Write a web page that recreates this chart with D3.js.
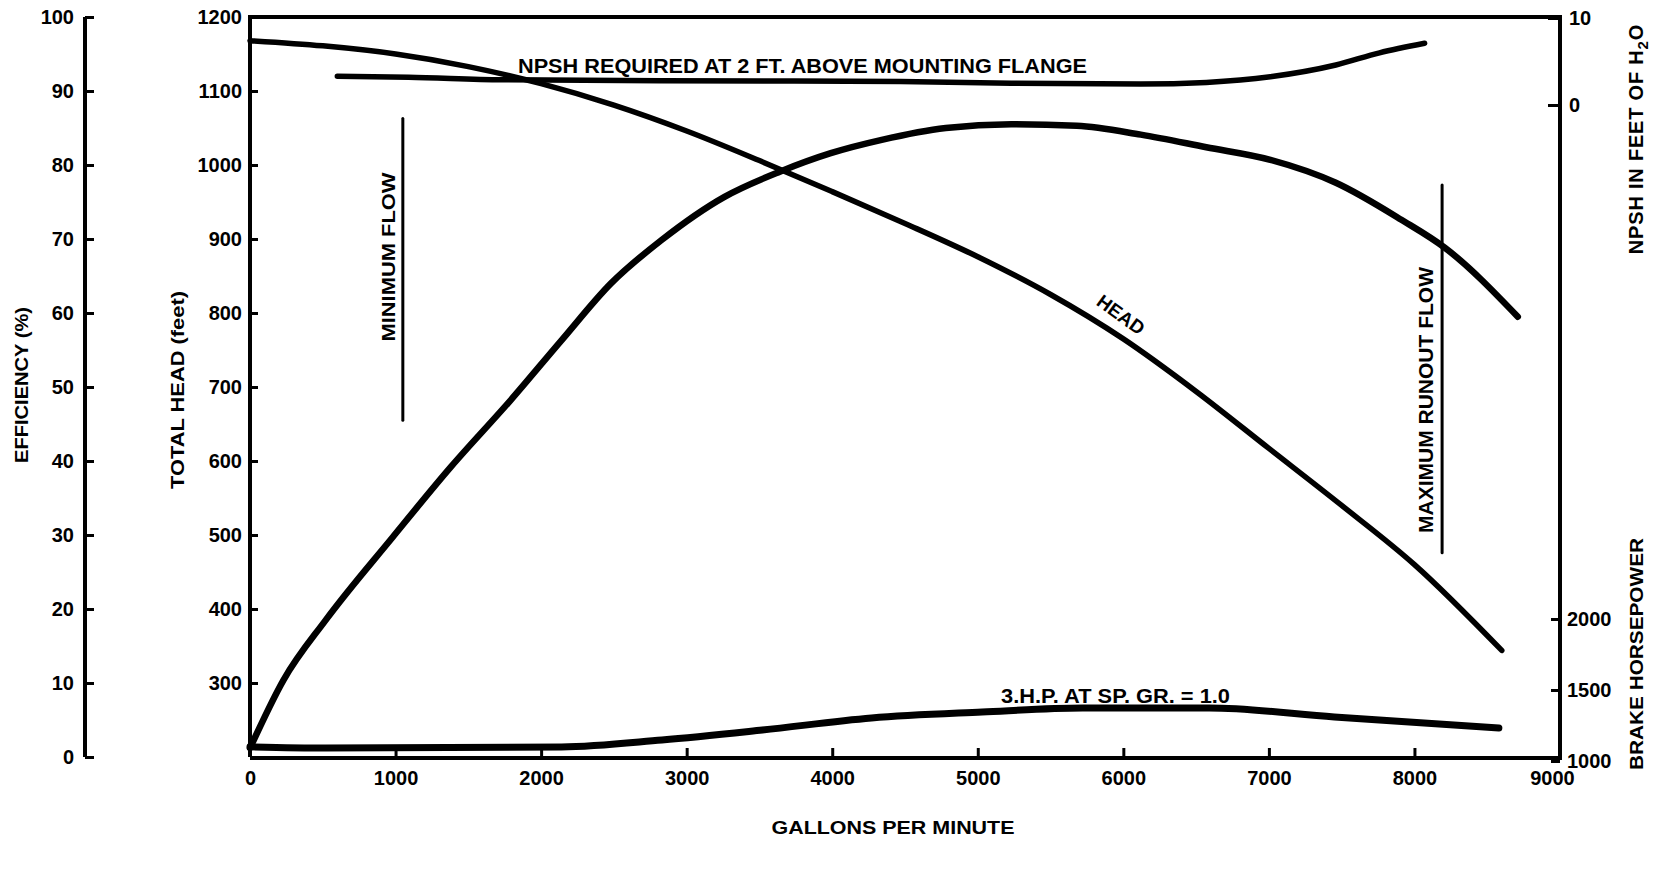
<!DOCTYPE html>
<html>
<head>
<meta charset="utf-8">
<script src="https://cdn.jsdelivr.net/npm/d3@7"></script>
<style>
  html, body { margin: 0; padding: 0; background: #fff; }
  svg { display: block; }
  text { font-family: "Liberation Sans", Arial, sans-serif; font-weight: bold; fill: #000; }
</style>
</head>
<body>
<svg id="chart" width="1658" height="869"></svg>
<script>
// Pump performance curves: flow (gpm) against head, efficiency, NPSH and brake horsepower.

// Head curve (feet)
const headGpm = [0, 500, 1000, 1500, 2000, 2500, 3000, 3500, 4000, 4500, 5000, 5500, 6000, 6500, 7000, 7500, 8000, 8600];
const headFt  = [1168, 1161, 1150, 1133, 1110, 1081, 1046, 1006, 964, 921, 876, 825, 765, 694, 617, 540, 460, 344];

// Efficiency curve (%)
const effGpm = [0, 230, 520, 980, 1380, 1790, 2140, 2480, 2830, 3260, 3640, 3990, 4340, 4780, 5230, 5680, 6120, 6570, 7010, 7460, 7910, 8210, 8710];
const effPct = [1.2, 10.4, 18.5, 29.7, 39.2, 48.2, 56.3, 64.0, 69.9, 75.7, 79.1, 81.6, 83.4, 85.0, 85.5, 85.3, 84.1, 82.4, 80.7, 77.6, 72.6, 68.8, 59.5];

// NPSH required (feet of water)
const npshGpm = [600, 1090, 1730, 2830, 4470, 5230, 6120, 6570, 7010, 7460, 7760, 8070];
const npshFt  = [3.3, 3.2, 2.9, 2.8, 2.7, 2.5, 2.4, 2.6, 3.25, 4.6, 6.0, 7.1];

// Brake horsepower at specific gravity 1.0
const bhpGpm = [0, 520, 2140, 2830, 3520, 4270, 5030, 5720, 6590, 7450, 8580];
const bhpHp  = [1100, 1092, 1099, 1148, 1218, 1303, 1345, 1373, 1373, 1310, 1232];

// Flow limits (gpm) and the head span of their marker lines
const minFlowGpm = 1050;
const minFlowHead = [1063, 655];
const maxFlowGpm = 8190;
const maxFlowHead = [973, 476];

// Tick values
const gpmTicks  = [0, 1000, 2000, 3000, 4000, 5000, 6000, 7000, 8000, 9000];
const headTicks = [300, 400, 500, 600, 700, 800, 900, 1000, 1100, 1200];
const effTicks  = [0, 10, 20, 30, 40, 50, 60, 70, 80, 90, 100];
const npshTicks = [0, 10];
const bhpTicks  = [1000, 1500, 2000];

const svg = d3.select("#chart");
const fmt = d3.format("d");

const x     = d3.scaleLinear([0, 9000], [250, 1560]);
const yHead = d3.scaleLinear([200, 1200], [757, 17]);
const yEff  = d3.scaleLinear([0, 100], [757, 17]);
const yNpsh = d3.scaleLinear([0, 10], [105, 18]);
const yBhp  = d3.scaleLinear([1000, 2000], [761, 619]);

// Frame
svg.append("path")
  .attr("fill", "none").attr("stroke", "#000").attr("stroke-width", 4)
  .attr("d", `M${x(0)},${yHead(200)} V${yHead(1200)} H${x(9000)} V${yHead(200) + 1} H${x(0)}`);

// Efficiency axis (separate, far left)
const effAxis = svg.append("g")
  .attr("transform", "translate(85,0)")
  .call(d3.axisLeft(yEff).tickValues(effTicks).tickFormat(fmt).tickSize(-9).tickPadding(11));
effAxis.select(".domain").attr("d", `M0,${yEff(100)}V${yEff(0)}`).attr("stroke-width", 4);

// Head axis
const headAxis = svg.append("g")
  .attr("transform", `translate(${x(0)},0)`)
  .call(d3.axisLeft(yHead).tickValues(headTicks).tickFormat(fmt).tickSize(-8).tickPadding(8));
headAxis.select(".domain").remove();

// Flow axis
const gpmAxis = svg.append("g")
  .attr("transform", `translate(0,${yHead(200)})`)
  .call(d3.axisBottom(x).tickValues(gpmTicks).tickFormat(fmt).tickSize(-9).tickPadding(14));
gpmAxis.select(".domain").remove();
gpmAxis.selectAll(".tick").filter(d => d === 9000).select("text").attr("dx", -8);

// NPSH axis (right, upper)
const npshAxis = svg.append("g")
  .attr("transform", `translate(${x(9000)},0)`)
  .call(d3.axisRight(yNpsh).tickValues(npshTicks).tickFormat(fmt).tickSize(-12).tickPadding(9));
npshAxis.select(".domain").remove();

// Brake horsepower axis (right, lower)
const bhpAxis = svg.append("g")
  .attr("transform", `translate(${x(9000)},0)`)
  .call(d3.axisRight(yBhp).tickValues(bhpTicks).tickFormat(fmt).tickSize(-9).tickPadding(7));
bhpAxis.select(".domain").remove();

svg.selectAll(".tick line").attr("stroke", "#000").attr("stroke-width", 3);
svg.selectAll(".tick text")
  .attr("font-size", 20)
  .attr("font-family", "'Liberation Sans', Arial, sans-serif")
  .attr("font-weight", "bold")
  .attr("fill", "#000");

// Curves
const curveGroup = svg.append("g").attr("fill", "none").attr("stroke", "#000")
  .attr("stroke-linecap", "round").attr("stroke-linejoin", "round");

function drawCurve(xs, ys, yScale, width) {
  const pts = xs.map((g, i) => [g, ys[i]]);
  curveGroup.append("path")
    .datum(pts)
    .attr("stroke-width", width)
    .attr("d", d3.line().x(d => x(d[0])).y(d => yScale(d[1])).curve(d3.curveMonotoneX));
}

drawCurve(headGpm, headFt, yHead, 5.5);
drawCurve(effGpm, effPct, yEff, 6.5);
drawCurve(npshGpm, npshFt, yNpsh, 5.5);
drawCurve(bhpGpm, bhpHp, yBhp, 7);

// Flow limit markers
curveGroup.append("line")
  .attr("x1", x(minFlowGpm)).attr("x2", x(minFlowGpm))
  .attr("y1", yHead(minFlowHead[0])).attr("y2", yHead(minFlowHead[1]))
  .attr("stroke-width", 3);
curveGroup.append("line")
  .attr("x1", x(maxFlowGpm)).attr("x2", x(maxFlowGpm))
  .attr("y1", yHead(maxFlowHead[0])).attr("y2", yHead(maxFlowHead[1]))
  .attr("stroke-width", 3);

// Axis titles
function vText(label, bx, cy, size, len) {
  const t = svg.append("text")
    .attr("transform", `translate(${bx},${cy}) rotate(-90)`)
    .attr("text-anchor", "middle")
    .attr("font-size", size)
    .text(label);
  if (len) t.attr("textLength", len).attr("lengthAdjust", "spacingAndGlyphs");
  return t;
}

vText("EFFICIENCY (%)", 28, 385, 19, 156);
vText("TOTAL HEAD (feet)", 184, 390, 19, 198);

const npshTitle = svg.append("text")
  .attr("transform", "translate(1643,139) rotate(-90)")
  .attr("text-anchor", "middle")
  .attr("font-size", 20)
  .attr("letter-spacing", 0.8);
npshTitle.append("tspan").text("NPSH IN FEET OF H");
npshTitle.append("tspan").attr("dy", 5).attr("font-size", 15).text("2");
npshTitle.append("tspan").attr("dy", -5).text("O");

vText("BRAKE HORSEPOWER", 1643, 654, 19, 232);

svg.append("text")
  .attr("x", 893).attr("y", 834)
  .attr("text-anchor", "middle")
  .attr("font-size", 19)
  .attr("textLength", 243).attr("lengthAdjust", "spacingAndGlyphs")
  .text("GALLONS PER MINUTE");

// Curve annotations
svg.append("text")
  .attr("x", 518).attr("y", 73)
  .attr("font-size", 21)
  .attr("textLength", 569).attr("lengthAdjust", "spacingAndGlyphs")
  .text("NPSH REQUIRED AT 2 FT. ABOVE MOUNTING FLANGE");

svg.append("text")
  .attr("x", 1001).attr("y", 703)
  .attr("font-size", 20)
  .attr("textLength", 229).attr("lengthAdjust", "spacingAndGlyphs")
  .text("3.H.P. AT SP. GR. = 1.0");

svg.append("text")
  .attr("transform", "translate(1117,320) rotate(36)")
  .attr("text-anchor", "middle")
  .attr("font-size", 19)
  .text("HEAD");

vText("MINIMUM FLOW", 395, 257, 18, 169);
vText("MAXIMUM RUNOUT FLOW", 1433, 400, 20, 266);
</script>
</body>
</html>
